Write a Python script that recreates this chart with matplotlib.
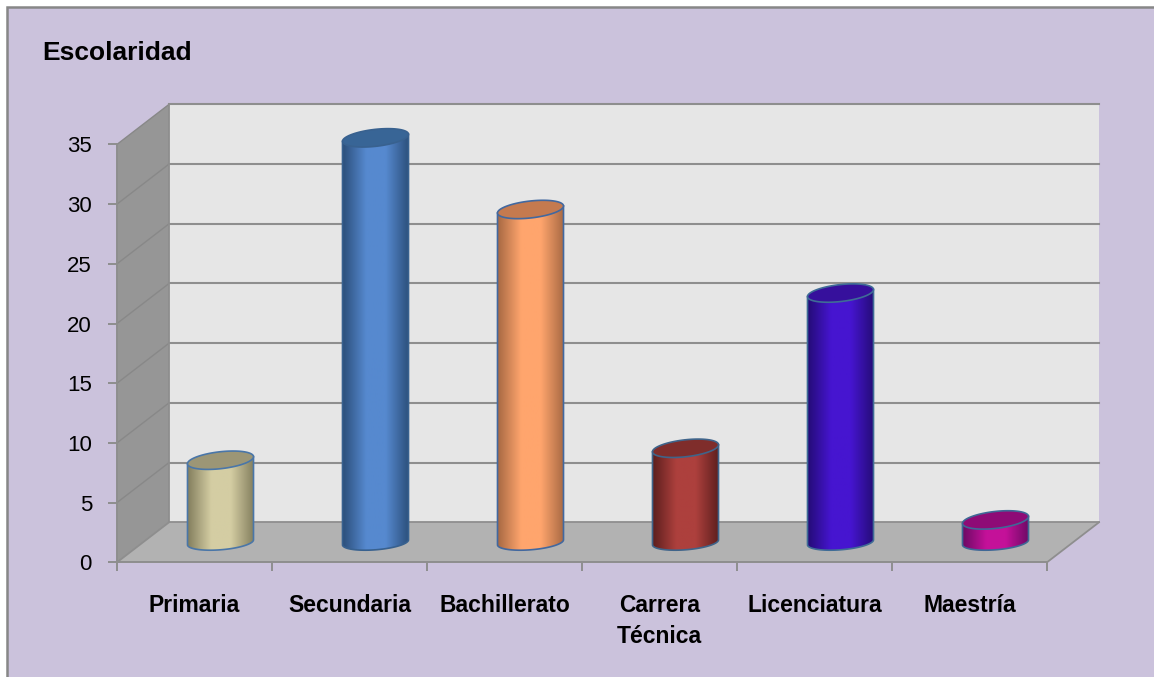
#! /usr/bin/env python3
# Escolaridad - fake 3D cylinder chart
import matplotlib
matplotlib.use('Agg')
import matplotlib.pyplot as plt
import numpy as np
from matplotlib.colors import LinearSegmentedColormap
from matplotlib.patches import PathPatch, Polygon, Rectangle
from matplotlib.path import Path

categorias = ['Primaria', 'Secundaria', 'Bachillerato', 'Carrera\nTécnica', 'Licenciatura', 'Maestría']
valores = [7, 34, 28, 8, 21, 2]
ticks_y = [0, 5, 10, 15, 20, 25, 30, 35]

oscuros = ['#85805f', '#2c507c', '#a96a44', '#5e1f1e', '#250c78', '#6e0a66']
claros = ['#d4cda3', '#5689cf', '#ffa56d', '#ad403d', '#4615d0', '#c41199']
tapas = ['#9c9676', '#386596', '#c57a4f', '#7f2d2b', '#36109c', '#8e0b76']
bordes = ['#4a76a8', '#38618f', '#42689f', '#3f648a', '#3f6c96', '#3f6896']

W, H = 1154, 677
# pixel scales of the front plane
sx = 155.0
sy = 11.94
x0_px, y0_px = 117, 562.3
prof_x = 52 / sx
prof_y = 40 / sy

fig = plt.figure(figsize=(W / 100, H / 100), dpi=100, facecolor='white')
fig.patches.append(Rectangle((7 / W, -0.02), 1.02, (H - 7) / H + 0.02, transform=fig.transFigure,
                             fc='#cbc2dc', ec='#878787', lw=1.8, zorder=0))

ax = fig.add_axes([0, 0, 1, 1], zorder=2)
ax.patch.set_alpha(0)
xlim = (-x0_px / sx, (W - x0_px) / sx)
ylim = ((y0_px - H) / sy, y0_px / sy)

n = len(categorias)
top = ticks_y[-1]
gris = '#8e8e8e'

# walls
ax.add_patch(Rectangle((prof_x, prof_y), n, top, fc='#e6e6e6', ec='none', zorder=1))
ax.add_patch(Polygon([(0, 0), (prof_x, prof_y), (prof_x, prof_y + top), (0, top)],
                     fc='#969696', ec='none', zorder=2))
ax.add_patch(Polygon([(0, 0), (n, 0), (n + prof_x, prof_y), (prof_x, prof_y)],
                     fc='#b2b2b2', ec='none', zorder=2))

for v in ticks_y:
    if v > 0:
        ax.plot([prof_x, n + prof_x], [prof_y + v] * 2, color=gris, lw=1.5, zorder=3)
        ax.plot([0, prof_x], [v, v + prof_y], color='#888888', lw=1.0, zorder=3)
ax.plot([prof_x, prof_x], [prof_y, prof_y + top], color=gris, lw=1.3, zorder=3)
ax.plot([prof_x, n + prof_x], [prof_y, prof_y], color=gris, lw=1.3, zorder=3)
ax.plot([0, prof_x], [0, prof_y], color=gris, lw=1.3, zorder=3)
ax.plot([n, n + prof_x], [0, prof_y], color=gris, lw=1.3, zorder=3)

# cylinders
a = 33 / sx
b = 8.5 / sy
b_abajo = 7.5 / sy
s = 3.5 / sy
s_abajo = 2.5 / sy
t = np.linspace(0, 2 * np.pi, 121)
t_abajo = np.linspace(np.pi, 2 * np.pi, 61)

for i, v in enumerate(valores):
    cx = i + 0.5 + prof_x / 2
    base = prof_y / 2
    techo = base + v - 1.5 / sy
    # body outline: bottom arc, then back across the top
    xb = cx + a * np.cos(t_abajo)
    yb = base + b_abajo * np.sin(t_abajo) + s_abajo * np.cos(t_abajo)
    xt = cx + a * np.cos(t_abajo[::-1])
    yt = techo + s * np.cos(t_abajo[::-1])
    puntos = np.column_stack([np.r_[xb, xt], np.r_[yb, yt]])
    cuerpo = PathPatch(Path(np.vstack([puntos, puntos[0]])), fc='none', ec=bordes[i], lw=1.2, zorder=6)
    ax.add_patch(cuerpo)

    cmap = LinearSegmentedColormap.from_list('cil', [(0, oscuros[i]), (0.35, claros[i]), (0.65, claros[i]), (1, oscuros[i])])
    grad = np.linspace(0, 1, 128).reshape(1, -1)
    im = ax.imshow(grad, cmap=cmap, aspect='auto', zorder=5,
                   extent=(cx - a, cx + a, -5, v + 5), interpolation='bilinear')
    im.set_clip_path(cuerpo)

    xe = cx + a * np.cos(t)
    ye = techo + b * np.sin(t) + s * np.cos(t)
    ax.fill(xe, ye, fc=tapas[i], ec=bordes[i], lw=1.2, zorder=7)

ax.set_xlim(xlim)
ax.set_ylim(ylim)

# axes on the front plane
for lado in ['top', 'right']:
    ax.spines[lado].set_visible(False)
ax.spines['left'].set_position(('data', 0))
ax.spines['left'].set_bounds(0, top)
ax.spines['bottom'].set_position(('data', 0))
ax.spines['bottom'].set_bounds(0, n)
for lado in ['left', 'bottom']:
    ax.spines[lado].set_color(gris)
    ax.spines[lado].set_linewidth(1.4)
    ax.spines[lado].set_zorder(4)

fuente = ['Liberation Sans']
ax.set_yticks(ticks_y)
ax.set_yticklabels([str(v) for v in ticks_y], fontsize=16, family=fuente, color='black')
ax.tick_params(axis='y', length=6.5, width=1.4, color=gris, pad=11.5)
ax.set_xticks(range(n + 1))
ax.set_xticklabels([])
ax.tick_params(axis='x', which='major', length=6.5, width=1.4, color=gris)
ax.set_xticks(np.arange(n) + 0.5, minor=True)
ax.set_xticklabels(categorias, minor=True, fontsize=16.5, family=fuente, fontweight='bold',
                   color='black', linespacing=1.41)
ax.tick_params(axis='x', which='minor', length=0, pad=23)

fig.text(42 / W, 1 - 60 / H, 'Escolaridad', fontsize=19, family=fuente, fontweight='bold',
         color='black', ha='left', va='baseline', zorder=3)

fig.savefig('out.png', dpi=100, facecolor=fig.get_facecolor())
